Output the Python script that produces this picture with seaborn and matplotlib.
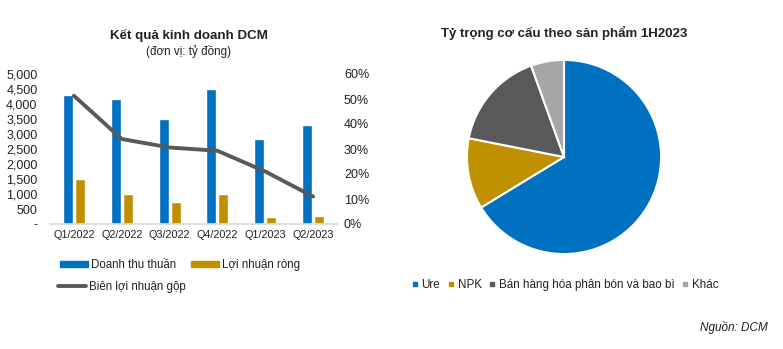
import matplotlib
matplotlib.use("Agg")
import matplotlib.pyplot as plt
import matplotlib.ticker as mticker
from matplotlib.patches import Patch
from matplotlib.lines import Line2D
import pandas as pd
import seaborn as sns

# dữ liệu
quarters = ["Q1/2022", "Q2/2022", "Q3/2022", "Q4/2022", "Q1/2023", "Q2/2023"]
revenue = [4300, 4150, 3500, 4500, 2850, 3300]
net_profit = [1500, 1000, 720, 1000, 220, 280]
gross_margin = [0.513, 0.34, 0.306, 0.293, 0.21, 0.11]

products = ["Ure", "NPK", "Bán hàng hóa phân bón và bao bì", "Khác"]
product_share = [66.3, 11.8, 16.4, 5.5]

BLUE = "#0070C0"
GOLD = "#BF9000"
DGRAY = "#595959"
LGRAY = "#A6A6A6"

sns.set_theme(style="white")
plt.rcParams["font.family"] = ["Liberation Sans", "DejaVu Sans"]
plt.rcParams["text.color"] = "#222222"

W, H = 783, 349
fig = plt.figure(figsize=(W / 100, H / 100), dpi=100)


def fx(px):
    return px / W


def fy(py):
    return 1 - py / H


# ---- biểu đồ cột + đường ----
ax = fig.add_axes([fx(50), fy(224), fx(287), 150 / H])
df = pd.DataFrame({
    "quy": quarters * 2,
    "chi_tieu": ["Doanh thu thuần"] * 6 + ["Lợi nhuận ròng"] * 6,
    "gia_tri": revenue + net_profit,
})
sns.barplot(data=df, x="quy", y="gia_tri", hue="chi_tieu",
            palette=[BLUE, GOLD], width=0.5, gap=0.16, ax=ax,
            legend=False, saturation=1)
ax.set_ylim(0, 5000)
ax.set_yticks(range(0, 5001, 500))
ax.yaxis.set_major_formatter(mticker.FuncFormatter(
    lambda v, p: "-" if v == 0 else f"{int(v):,}"))
ax.set_xlabel("")
ax.set_ylabel("")
for s in ["top", "right", "left"]:
    ax.spines[s].set_visible(False)
ax.spines["bottom"].set_color("#D9D9D9")
ax.tick_params(axis="y", length=0, pad=9, labelsize=9, labelcolor="#222222")
ax.tick_params(axis="x", length=0, pad=4, labelsize=7.8, labelcolor="#222222")

ax2 = ax.twinx()
sns.pointplot(x=quarters, y=gross_margin, ax=ax2, color=DGRAY,
              markers="", errorbar=None, linewidth=2.8)
ax2.set_ylim(0, 0.6)
ax2.set_yticks([0, 0.1, 0.2, 0.3, 0.4, 0.5, 0.6])
ax2.yaxis.set_major_formatter(mticker.FuncFormatter(lambda v, p: f"{v * 100:.0f}%"))
ax2.tick_params(axis="y", length=0, pad=5, labelsize=9, labelcolor="#222222")
for s in ["top", "right", "left", "bottom"]:
    ax2.spines[s].set_visible(False)
ax2.set_ylabel("")
ax.set_xlim(-0.5, 5.5)

fig.text(fx(189), fy(35), "Kết quả kinh doanh DCM", ha="center", va="center",
         fontsize=9.6, fontweight="bold")
fig.text(fx(189), fy(51), "(đơn vị: tỷ đồng)", ha="center", va="center", fontsize=8.4)

# chú thích: hàng 1 cột, hàng 2 đường
leg_kw = dict(frameon=False, fontsize=8.3, handlelength=2.4, handleheight=0.5,
              handletextpad=0.3, borderpad=0, borderaxespad=0)
bar_handles = [Patch(color=BLUE, label="Doanh thu thuần"),
               Patch(color=GOLD, label="Lợi nhuận ròng")]
fig.legend(handles=bar_handles, ncol=2, loc="center left",
           bbox_to_anchor=(fx(60), fy(265)), columnspacing=1.3, **leg_kw)
line_handles = [Line2D([], [], color=DGRAY, lw=2.8, label="Biên lợi nhuận gộp")]
fig.legend(handles=line_handles, loc="center left",
           bbox_to_anchor=(fx(58), fy(287)), **leg_kw)

# ---- biểu đồ tròn ----
pax = fig.add_axes([fx(465), fy(256), 198 / W, 198 / H])
pax.pie(product_share, colors=[BLUE, GOLD, DGRAY, LGRAY], startangle=90,
        counterclock=False, wedgeprops=dict(edgecolor="white", linewidth=1.5))
pax.set_xlim(-1.02, 1.02)
pax.set_ylim(-1.02, 1.02)

fig.text(fx(564), fy(33), "Tỷ trọng cơ cấu theo sản phẩm 1H2023", ha="center",
         va="center", fontsize=9.5, fontweight="bold")

pie_handles = [Line2D([], [], ls="", marker="s", markersize=3, color=c, label=l)
               for c, l in zip([BLUE, GOLD, DGRAY, LGRAY], products)]
fig.legend(handles=pie_handles, ncol=4, loc="center left",
           bbox_to_anchor=(fx(411), fy(285)), frameon=False, fontsize=8.4,
           handlelength=0.6, handletextpad=0.3, columnspacing=0.6,
           borderpad=0, borderaxespad=0)

fig.text(fx(768), fy(327), "Nguồn: DCM", ha="right", va="center",
         fontsize=8.5, style="italic")

fig.savefig("out.png", dpi=100)
